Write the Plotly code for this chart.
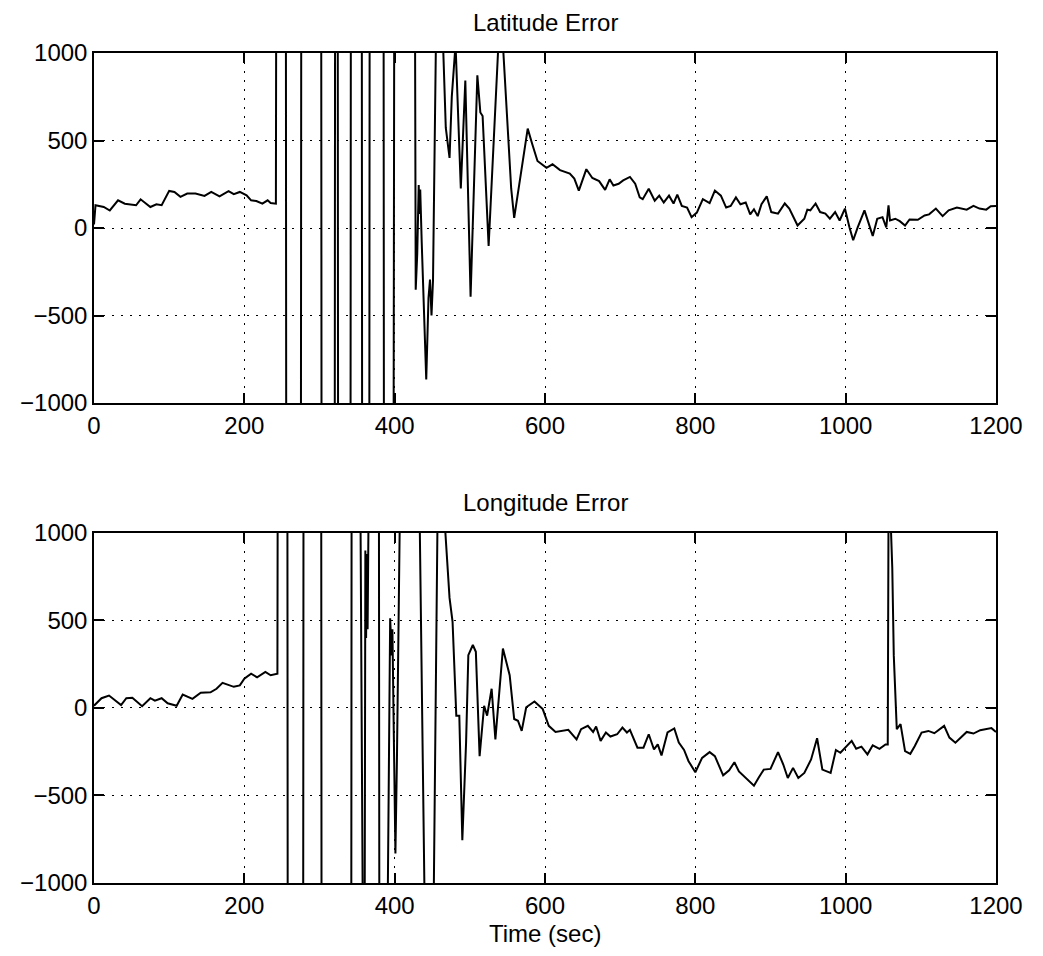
import plotly.graph_objects as go

# Latitude error (top panel), seconds / metres
lat_t = [0, 1, 2, 13, 21, 32, 41, 56, 62, 75, 83, 90, 100, 107, 115, 124, 135, 147, 156, 167,
         179, 186, 194, 203, 209, 216, 224, 231, 235, 242,
         243, 255, 256, 275, 276, 302, 303, 320, 321, 324, 325, 341, 342, 356, 357, 366, 367,
         385, 386, 398, 399, 400, 426,
         428, 430, 432, 433, 434, 436, 438, 442, 445, 447, 449, 451, 455, 464, 468, 473, 476,
         481, 488, 494, 501, 510, 514, 517, 525, 538, 544, 555, 559,
         577, 583, 590, 602, 610, 620, 633, 639, 645, 655, 663, 672, 680, 686, 691, 698, 704,
         713, 720, 726, 730, 738, 746, 752, 758, 765, 771, 776, 782, 789, 795, 802, 810, 819,
         826, 834, 841, 847, 854, 860, 867, 873, 878, 883, 888, 895, 901, 910, 919, 925, 936,
         945, 949, 953, 960, 966, 973, 979, 986, 992, 999, 1005, 1010, 1016, 1025, 1036, 1042,
         1049, 1054, 1057, 1059, 1066, 1072, 1079, 1085, 1096, 1105, 1111, 1120, 1129, 1137,
         1148, 1161, 1170, 1178, 1187, 1193, 1200]
lat_err = [20, 130, 130, 120, 100, 158, 139, 130, 164, 120, 135, 130, 212, 206, 178, 197, 197, 183, 206, 181,
           210, 193, 206, 187, 158, 154, 139, 158, 143, 139,
           3000, 3000, -3000, -3000, 3000, 3000, -3000, -3000, 3000, 3000, -3000, -3000, 3000, 3000, -3000, -3000, 3000,
           3000, -3000, -3000, -950, 3000, 3000,
           -353, -150, 245, 80, 220, -83, -350, -865, -400, -295, -500, -300, 1100, 1100, 573, 400, 750,
           1050, 226, 843, -392, 872, 660, 640, -102, 1050, 1050, 226, 58,
           568, 480, 383, 344, 364, 331, 311, 282, 214, 336, 286, 268, 218, 278, 243, 253, 272,
           292, 253, 175, 165, 224, 156, 185, 146, 185, 140, 191, 126, 117, 62, 88, 165, 142,
           214, 185, 117, 126, 175, 136, 146, 78, 107, 68, 136, 181, 91, 82, 140, 111, 14,
           53, 105, 101, 140, 91, 82, 53, 91, 43, 111, 4, -70, 4, 101, -45, 53,
           62, 4, 130, 43, 53, 39, 14, 49, 47, 72, 78, 111, 68, 101,
           117, 105, 126, 111, 105, 124, 126]

# Longitude error (bottom panel)
lon_t = [0, 10, 20, 27, 36, 43, 51, 64, 75, 81, 90, 98, 110, 118, 131, 142, 155, 163, 171, 186,
         194, 200, 209, 217, 228, 235, 244,
         245, 257, 258, 278, 279, 302, 303, 342, 343, 352, 358, 360, 361, 362, 363, 364, 366,
         379, 380, 390, 394, 396, 397, 399, 401, 403, 408, 432, 441, 451, 458,
         466, 473, 477, 480, 482, 486, 488, 490, 495, 498, 504, 508, 513, 519, 523, 529, 534,
         538, 544, 553, 559, 564, 569, 575, 586, 597, 605, 614, 623, 631, 642, 648, 657, 664,
         668, 674, 681, 687, 696, 703, 709, 713, 723, 731, 738, 745, 750, 755, 763, 772, 778,
         785, 791, 800, 809, 819, 826, 837, 845, 852, 858, 867, 878, 884, 891, 900, 910, 917,
         923, 930, 937, 945, 954, 962, 969, 980, 987, 993, 1001, 1008, 1014, 1021, 1029, 1036,
         1045, 1053, 1056, 1057, 1060, 1062, 1064, 1068, 1073, 1079, 1086, 1092, 1101, 1110,
         1118, 1131, 1138, 1146, 1161, 1170, 1179, 1194, 1200]
lon_err = [13, 56, 71, 48, 17, 56, 58, 10, 56, 42, 56, 27, 13, 77, 52, 87, 90, 110, 144, 121,
           129, 167, 196, 175, 206, 187, 196,
           3000, 3000, -3000, -3000, 3000, 3000, -3000, -3000, 3000, 3000, -1500, -1500, 900, 400, 880, 450, 1500,
           1500, -3000, -1500, 513, 300, 450, -400, -832, -300, 1500, 1500, -1500, -1500, 1500,
           1100, 629, 494, 148, -44, -44, -390, -756, -198, 302, 360, 321, -275, 13, -44, 110, -179,
           13, 340, 187, -63, -73, -131, 4, 37, -6, -102, -137, -131, -125, -179, -121, -102, -137,
           -106, -188, -140, -163, -150, -112, -140, -125, -227, -227, -150, -237, -208, -271, -140, -117, -198,
           -240, -304, -367, -285, -252, -275, -385, -356, -310, -362, -400, -444, -400, -352, -348, -252, -323,
           -400, -342, -400, -371, -294, -173, -352, -371, -240, -256, -217, -188, -233, -221, -265, -213,
           -233, -208, -208, 1100, 1050, 802, 302, -121, -92, -246, -262, -217, -140, -131,
           -144, -102, -169, -198, -137, -146, -127, -115, -137]

x_ticks = [0, 200, 400, 600, 800, 1000, 1200]
y_ticks = [-1000, -500, 0, 500, 1000]

FONT = dict(family="Liberation Sans, Arial, sans-serif", size=24, color="black")

axis_common = dict(
    showline=True,
    linecolor="black",
    linewidth=1.5,
    mirror="ticks",
    ticks="inside",
    ticklen=10,
    tickwidth=1.5,
    tickcolor="black",
    showgrid=True,
    gridcolor="black",
    gridwidth=1.3,
    griddash="2px,7px",
    zeroline=False,
    tickfont=FONT,
    ticklabeloverflow="allow",
)

fig = go.Figure()
fig.add_trace(go.Scatter(x=lat_t, y=lat_err, mode="lines",
                         line=dict(color="black", width=2), xaxis="x", yaxis="y"))
fig.add_trace(go.Scatter(x=lon_t, y=lon_err, mode="lines",
                         line=dict(color="black", width=2), xaxis="x2", yaxis="y2"))

# page body has an 8px margin, so the figure is sized to fit the window without scrollbars
fig.update_layout(
    width=1027,
    height=940,
    margin=dict(l=78, r=27, t=45, b=65),
    paper_bgcolor="white",
    plot_bgcolor="white",
    showlegend=False,
    xaxis=dict(domain=[0, 1], range=[0, 1200], tickvals=x_ticks, anchor="y", **axis_common),
    yaxis=dict(domain=[0.5783, 1], range=[-1000, 1000], tickvals=y_ticks, anchor="x", **axis_common),
    xaxis2=dict(domain=[0, 1], range=[0, 1200], tickvals=x_ticks, anchor="y2", **axis_common),
    yaxis2=dict(domain=[0, 0.4217], range=[-1000, 1000], tickvals=y_ticks, anchor="x2", **axis_common),
    annotations=[
        dict(text="Latitude Error", x=0.5, y=1.037, xref="paper", yref="paper",
             showarrow=False, font=FONT, xanchor="center", yanchor="middle"),
        dict(text="Longitude Error", x=0.5, y=0.459, xref="paper", yref="paper",
             showarrow=False, font=FONT, xanchor="center", yanchor="middle"),
        dict(text="Time (sec)", x=0.5, y=-0.0614, xref="paper", yref="paper",
             showarrow=False, font=FONT, xanchor="center", yanchor="middle"),
    ],
)

fig.write_html("out.html")
